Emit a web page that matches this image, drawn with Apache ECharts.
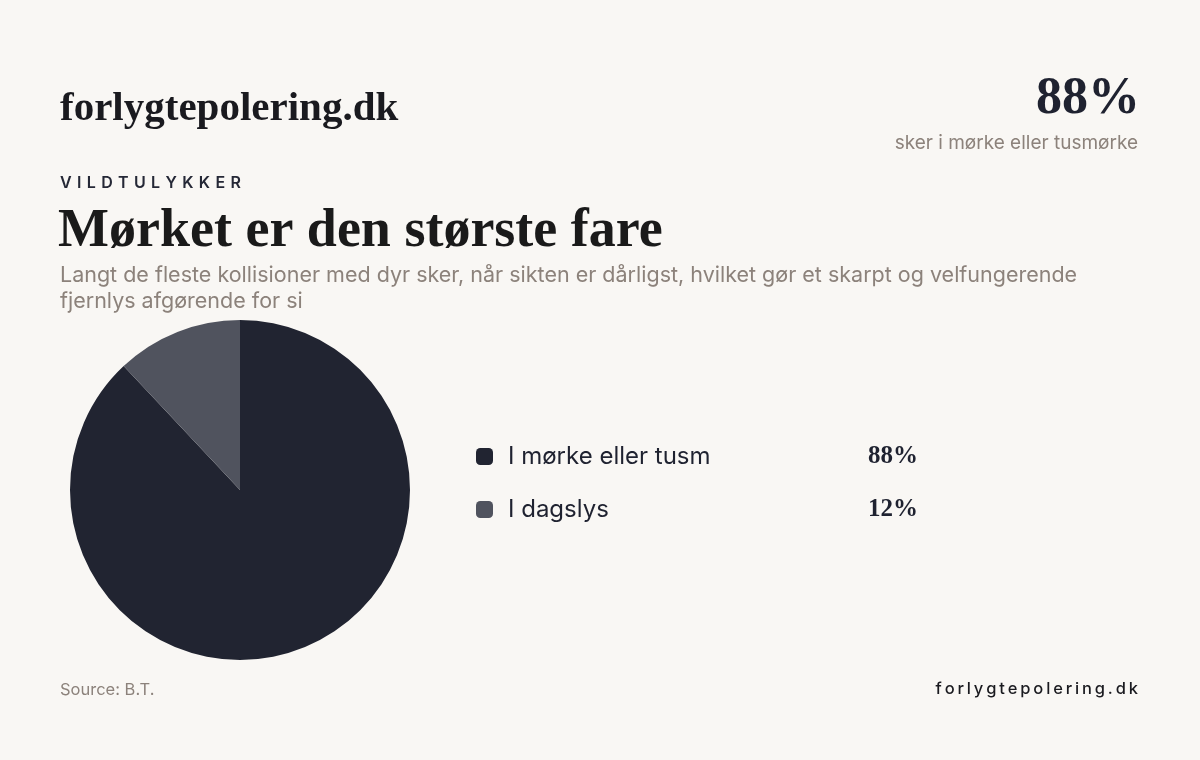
<!DOCTYPE html>
<html>
<head>
<meta charset="utf-8">
<script src="https://cdn.jsdelivr.net/npm/echarts@6/dist/echarts.min.js"></script>
<style>
html,body{margin:0;padding:0;background:#f9f7f4;}
#chart{width:1200px;height:760px;}
</style>
</head>
<body>
<div id="chart"></div>
<script>
const categories = ['I mørke eller tusm', 'I dagslys'];
const values = [88, 12];
const colors = ['#212431', '#50535e'];

const brand = 'forlygtepolering.dk';
const kicker = 'VILDTULYKKER';
const headline = 'Mørket er den største fare';
const subtitle = 'Langt de fleste kollisioner med dyr sker, når sikten er dårligst, hvilket gør et skarpt og velfungerende fjernlys afgørende for si';
const statValue = '88%';
const statLabel = 'sker i mørke eller tusmørke';
const source = 'Source: B.T.';

const SERIF = '"Liberation Serif", "DejaVu Serif", serif';
const SANS = 'Inter, "Noto Sans", sans-serif';

function spaced(s, sp) { return s.split('').join(sp); }

const chart = echarts.init(document.getElementById('chart'));
chart.setOption({
  backgroundColor: '#f9f7f4',
  animation: false,
  color: colors,
  legend: {
    orient: 'vertical',
    left: 476,
    top: 444,
    padding: 0,
    icon: 'roundRect',
    itemWidth: 17,
    itemHeight: 17,
    itemGap: 28,
    selectedMode: false,
    data: categories,
    formatter: function (name) {
      const i = categories.indexOf(name);
      return '{n|' + name + '}{v|' + values[i] + '%}';
    },
    textStyle: {
      rich: {
        n: { fontFamily: SANS, fontSize: 24, color: '#1f2230', width: 360, padding: [0, 0, 0, 10], lineHeight: 30 },
        v: { fontFamily: SERIF, fontSize: 25, fontWeight: 'bold', color: '#1f2230', lineHeight: 30 }
      }
    }
  },
  series: [{
    type: 'pie',
    center: [240, 490],
    radius: 170,
    startAngle: 90,
    clockwise: true,
    label: { show: false },
    labelLine: { show: false },
    emphasis: { disabled: true },
    itemStyle: { borderWidth: 0 },
    data: categories.map((c, i) => ({ name: c, value: values[i] }))
  }],
  graphic: [
    { type: 'text', left: 60, top: 89, style: { text: brand, font: 'bold 41px ' + SERIF, fill: '#1a1a1f' } },
    { type: 'text', right: 60, top: 74, style: { text: statValue, font: 'bold 52px ' + SERIF, fill: '#1f2230' } },
    { type: 'text', right: 62, top: 134, style: { text: statLabel, font: '19px ' + SANS, fill: '#8c827b' } },
    { type: 'text', left: 60, top: 175, style: { text: spaced(kicker, '\u2004'), font: '600 16px ' + SANS, fill: '#252836' } },
    { type: 'text', left: 58, top: 205, style: { text: headline, font: 'bold 54px ' + SERIF, fill: '#1a1a1a' } },
    { type: 'text', left: 60, top: 263, style: { text: subtitle, font: '21.5px ' + SANS, fill: '#8c827b', width: 1080, overflow: 'break', lineHeight: 26 } },
    { type: 'text', left: 60, top: 682, style: { text: source, font: '16.5px ' + SANS, fill: '#8c827b' } },
    { type: 'text', right: 62, top: 681, style: { text: spaced(brand, '\u2009'), font: '500 16.5px ' + SANS, fill: '#1a1a1f' } }
  ]
});
</script>
</body>
</html>
